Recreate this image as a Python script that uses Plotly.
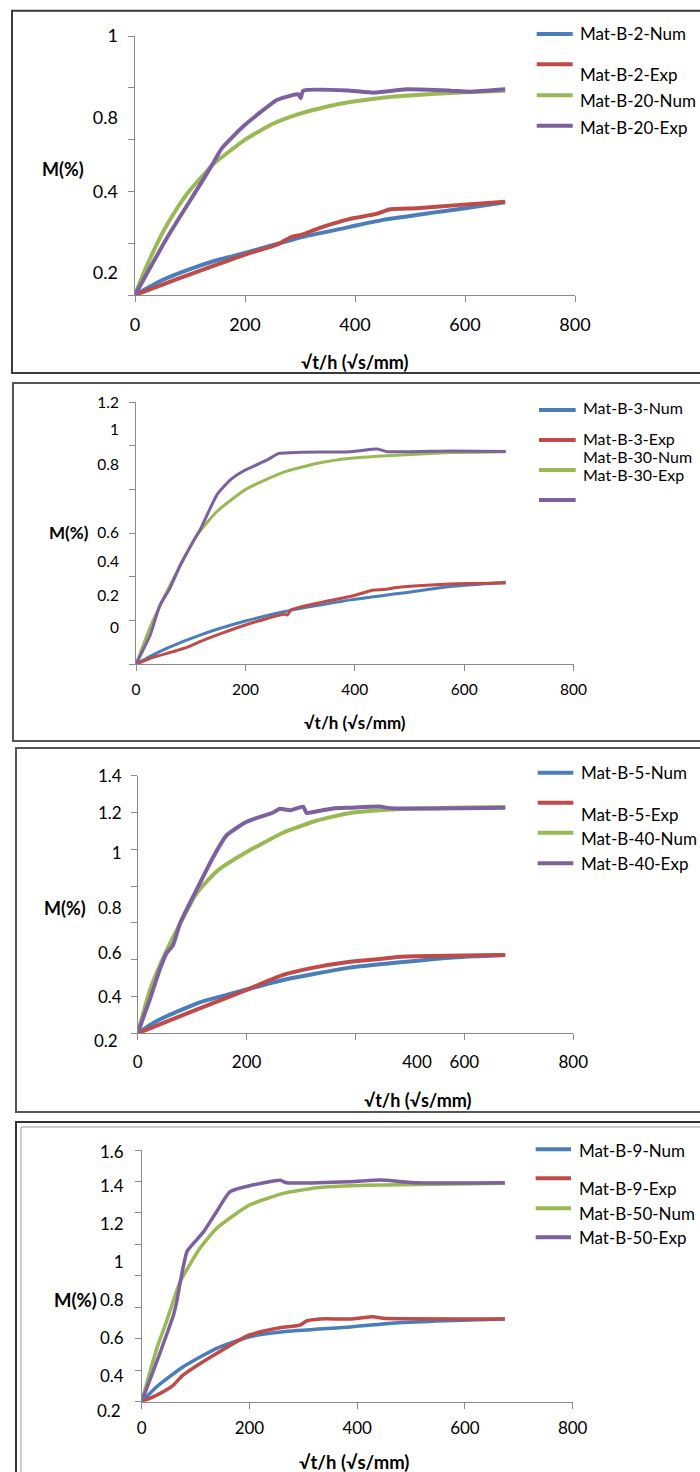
import plotly.graph_objects as go

W, H = 700, 1472
FONT = "Lato"
AX = "#8a8a8a"
BLUE, RED, GREEN, PURPLE = "#4A7EBB", "#BE4B48", "#98B954", "#7D60A0"
COLORS = [BLUE, RED, GREEN, PURPLE]

# ---------------- data ----------------
X_TICKS = [0, 200, 400, 600, 800]
X_TICKTEXT = ["0", "200", "400", "600", "800"]

# Panel 1
P1_NAMES = ["Mat-B-2-Num", "Mat-B-2-Exp", "Mat-B-20-Num", "Mat-B-20-Exp"]
P1_NUM2_X = [0, 25, 50, 100, 150, 200, 258, 300, 391, 451, 542, 600, 673]
P1_NUM2_Y = [0, 0.03, 0.058, 0.10, 0.135, 0.162, 0.197, 0.222, 0.263, 0.29, 0.318, 0.335, 0.358]
P1_EXP2_X = [0, 50, 100, 150, 200, 258, 282, 303, 340, 391, 439, 464, 512, 585, 673]
P1_EXP2_Y = [0, 0.04, 0.08, 0.118, 0.156, 0.194, 0.222, 0.233, 0.262, 0.294, 0.313, 0.331, 0.335, 0.347, 0.360]
P1_NUM20_X = [0, 10, 25, 50, 75, 100, 125, 142, 175, 200, 250, 300, 350, 391, 450, 512, 600, 673]
P1_NUM20_Y = [0, 0.055, 0.13, 0.24, 0.33, 0.405, 0.465, 0.505, 0.56, 0.60, 0.66, 0.70, 0.728, 0.745, 0.762, 0.772, 0.783, 0.789]
P1_EXP20_X = [0, 58, 118, 142, 158, 200, 258, 282, 297, 301, 306, 391, 433, 494, 573, 609, 673]
P1_EXP20_Y = [0, 0.22, 0.425, 0.509, 0.567, 0.657, 0.753, 0.769, 0.775, 0.76, 0.789, 0.789, 0.781, 0.794, 0.789, 0.785, 0.794]
P1_YTICKTEXT = ["1", "0.8", "0.4", "0.2"]
P1_YTICKVALS = [1.0, 0.683, 0.398, 0.085]

# Panel 2
P2_NAMES = ["Mat-B-3-Num", "Mat-B-3-Exp", "Mat-B-30-Num", "Mat-B-30-Exp"]
P2_NUM3_X = [0, 25, 56, 117, 200, 270, 393, 484, 575, 676]
P2_NUM3_Y = [0, 0.035, 0.073, 0.134, 0.198, 0.241, 0.295, 0.325, 0.356, 0.376]
P2_EXP3_X = [0, 26, 68, 90, 117, 160, 200, 240, 270, 277, 283, 300, 350, 393, 435, 453, 484, 575, 676]
P2_EXP3_Y = [0, 0.027, 0.058, 0.075, 0.104, 0.145, 0.18, 0.21, 0.229, 0.226, 0.249, 0.262, 0.29, 0.312, 0.34, 0.343, 0.354, 0.368, 0.372]
P2_NUM30_X = [0, 26, 56, 87, 111, 148, 200, 270, 330, 393, 484, 575, 676]
P2_NUM30_Y = [0, 0.17, 0.33, 0.48, 0.59, 0.70, 0.80, 0.88, 0.92, 0.944, 0.959, 0.970, 0.974]
P2_EXP30_X = [0, 26, 44, 62, 81, 111, 117, 148, 172, 200, 240, 261, 301, 393, 441, 460, 575, 676]
P2_EXP30_Y = [0, 0.134, 0.272, 0.348, 0.455, 0.59, 0.615, 0.776, 0.844, 0.89, 0.936, 0.966, 0.971, 0.974, 0.986, 0.974, 0.977, 0.975]
P2_YTICKTEXT = ["1.2", "1", "0.8", "0.6", "0.4", "0.2", "0"]
P2_YTICKVALS = [1.2, 1.073, 0.917, 0.605, 0.469, 0.317, 0.166]

# Panel 3
P3_NAMES = ["Mat-B-5-Num", "Mat-B-5-Exp", "Mat-B-40-Num", "Mat-B-40-Exp"]
P3_NUM5_X = [0, 25, 53, 114, 200, 267, 390, 482, 574, 675]
P3_NUM5_Y = [0, 0.05, 0.093, 0.168, 0.238, 0.29, 0.357, 0.386, 0.411, 0.425]
P3_EXP5_X = [0, 53, 114, 200, 267, 316, 390, 445, 482, 675]
P3_EXP5_Y = [0, 0.063, 0.136, 0.236, 0.317, 0.353, 0.389, 0.404, 0.416, 0.425]
P3_NUM40_X = [0, 23, 53, 84, 108, 145, 200, 267, 328, 390, 482, 574, 675]
P3_NUM40_Y = [0, 0.24, 0.45, 0.63, 0.76, 0.88, 0.985, 1.09, 1.155, 1.197, 1.219, 1.226, 1.23]
P3_EXP40_X = [0, 23, 41, 53, 65, 78, 108, 139, 163, 200, 249, 261, 280, 304, 310, 335, 359, 390, 445, 463, 675]
P3_EXP40_Y = [0, 0.19, 0.35, 0.435, 0.48, 0.60, 0.78, 0.96, 1.075, 1.15, 1.20, 1.22, 1.212, 1.232, 1.198, 1.21, 1.222, 1.226, 1.232, 1.223, 1.226]
P3_YTICKTEXT = ["1.4", "1.2", "1", "0.8", "0.6", "0.4"]
P3_YTICKVALS = [1.398, 1.197, 0.98, 0.681, 0.436, 0.197]
P3_XTICKVALS = [0, 200, 513, 600, 800]

# Panel 4
P4_NAMES = ["Mat-B-9-Num", "Mat-B-9-Exp", "Mat-B-50-Num", "Mat-B-50-Exp"]
P4_NUM9_X = [0, 28, 77, 139, 200, 263, 387, 470, 563, 674]
P4_NUM9_Y = [0, 0.095, 0.222, 0.339, 0.413, 0.445, 0.475, 0.50, 0.515, 0.526]
P4_EXP9_X = [0, 28, 59, 77, 139, 200, 257, 294, 306, 331, 387, 430, 448, 674]
P4_EXP9_Y = [0, 0.042, 0.106, 0.17, 0.307, 0.424, 0.47, 0.487, 0.513, 0.526, 0.526, 0.54, 0.53, 0.526]
P4_NUM50_X = [0, 28, 46, 71, 108, 139, 200, 263, 325, 387, 448, 674]
P4_NUM50_Y = [0, 0.339, 0.509, 0.76, 0.975, 1.102, 1.25, 1.324, 1.36, 1.373, 1.378, 1.388]
P4_EXP50_X = [0, 28, 46, 59, 65, 74, 84, 96, 115, 139, 164, 200, 257, 269, 387, 443, 511, 674]
P4_EXP50_Y = [0, 0.254, 0.424, 0.551, 0.636, 0.805, 0.954, 1.006, 1.081, 1.208, 1.335, 1.373, 1.407, 1.392, 1.398, 1.409, 1.392, 1.392]
P4_YTICKTEXT = ["1.6", "1.4", "1.2", "1", "0.8", "0.6", "0.4"]
P4_YTICKVALS = [1.589, 1.371, 1.13, 0.89, 0.647, 0.405, 0.163]

X_TITLE = "√t/h (√s/mm)"
Y_TITLE = "M(%)"

# ---------------- layout geometry (pixels) ----------------
def pxx(x):
    return x / W


def pyy(y):
    return 1 - y / H


panels = [
    dict(series=[(P1_NUM2_X, P1_NUM2_Y), (P1_EXP2_X, P1_EXP2_Y), (P1_NUM20_X, P1_NUM20_Y), (P1_EXP20_X, P1_EXP20_Y)],
         names=P1_NAMES, ymax=1.0, box=(135, 575, 36, 295), lw=4, fs=18, tfs=18,
         ytv=P1_YTICKVALS, ytt=P1_YTICKTEXT, xtv=X_TICKS, xstand=17, ystand=16,
         ytitle=(63, 169), xtitle=(355, 362),
         leg_lines=[34, 64.3, 95.3, 125.7], leg_x=(536.7, 572.7), leg_tx=578,
         leg_ty=[33.3, 75, 100, 127.3], leg_fs=17, extra=None),
    dict(series=[(P2_NUM3_X, P2_NUM3_Y), (P2_EXP3_X, P2_EXP3_Y), (P2_NUM30_X, P2_NUM30_Y), (P2_EXP30_X, P2_EXP30_Y)],
         names=P2_NAMES, ymax=1.2, box=(136, 573.5, 402.3, 664.3), lw=3, fs=15.5, tfs=17,
         ytv=P2_YTICKVALS, ytt=P2_YTICKTEXT, xtv=X_TICKS, xstand=14, ystand=16,
         ytitle=(69, 532), xtitle=(355, 722),
         leg_lines=[410, 440, 470, 500], leg_x=(539, 575.7), leg_tx=580.7,
         leg_ty=[407.3, 438.3, 456.7, 474.3], leg_fs=16, extra=None),
    dict(series=[(P3_NUM5_X, P3_NUM5_Y), (P3_EXP5_X, P3_EXP5_Y), (P3_NUM40_X, P3_NUM40_Y), (P3_EXP40_X, P3_EXP40_Y)],
         names=P3_NAMES, ymax=1.4, box=(137.7, 573.3, 775.7, 1033.3), lw=4, fs=17, tfs=18,
         ytv=P3_YTICKVALS, ytt=P3_YTICKTEXT, xtv=P3_XTICKVALS, xstand=17, ystand=15,
         ytitle=(64.5, 908), xtitle=(418, 1100),
         leg_lines=[772.7, 802.7, 832.7, 863.3], leg_x=(537.7, 573.3), leg_tx=579.3,
         leg_ty=[772.7, 814, 838.3, 863.3], leg_fs=17, extra=("0.2", 120, 1040)),
    dict(series=[(P4_NUM9_X, P4_NUM9_Y), (P4_EXP9_X, P4_EXP9_Y), (P4_NUM50_X, P4_NUM50_Y), (P4_EXP50_X, P4_EXP50_Y)],
         names=P4_NAMES, ymax=1.6, box=(141.7, 572.7, 1150, 1401.7), lw=3.5, fs=17, tfs=18.5,
         ytv=P4_YTICKVALS, ytt=P4_YTICKTEXT, xtv=X_TICKS, xstand=14, ystand=17,
         ytitle=(75, 1300), xtitle=(354, 1462),
         leg_lines=[1149.3, 1178.3, 1208.3, 1237.3], leg_x=(535.7, 571), leg_tx=577.3,
         leg_ty=[1150, 1188.3, 1213.3, 1237.7], leg_fs=17, extra=("0.2", 123, 1410)),
]

fig = go.Figure()
layout = dict(width=W, height=H, margin=dict(l=0, r=0, t=0, b=0, pad=0), autosize=False,
              paper_bgcolor="white", plot_bgcolor="rgba(0,0,0,0)", showlegend=False,
              font=dict(family=FONT, color="#000000"))
annotations = []
shapes = []

for i, p in enumerate(panels, start=1):
    xa = "x" if i == 1 else f"x{i}"
    ya = "y" if i == 1 else f"y{i}"
    xk = "xaxis" if i == 1 else f"xaxis{i}"
    yk = "yaxis" if i == 1 else f"yaxis{i}"
    lx, ly = f"x{i + 4}", f"y{i + 4}"
    x0, x1, y0, y1 = p["box"]
    for (xs, ys), name, color in zip(p["series"], p["names"], COLORS):
        fig.add_trace(go.Scatter(x=xs, y=ys, mode="lines", name=name,
                                 line=dict(color=color, width=p["lw"], shape="spline", smoothing=0.5),
                                 xaxis=xa, yaxis=ya, showlegend=False))
    fig.add_trace(go.Scatter(x=[], y=[], xaxis=lx, yaxis=ly, showlegend=False, hoverinfo="skip"))

    n = int(round(p["ymax"] / 0.2))
    ytickvals = [round(k * 0.2, 2) for k in range(n + 1)]
    common = dict(showgrid=False, zeroline=False, fixedrange=True, automargin=False)
    layout[xk] = dict(domain=[pxx(x0), pxx(x1)], range=[0, 800], anchor=ya,
                      tickmode="array", tickvals=X_TICKS, showticklabels=False,
                      ticks="outside", ticklen=6, tickcolor=AX, tickwidth=1,
                      showline=True, linecolor=AX, linewidth=1, **common)
    layout[yk] = dict(domain=[pyy(y1), pyy(y0)], range=[0, p["ymax"]], anchor=xa,
                      tickmode="array", tickvals=ytickvals, showticklabels=False,
                      ticks="outside", ticklen=6, tickcolor=AX, tickwidth=1,
                      showline=True, linecolor=AX, linewidth=1, **common)
    tf = dict(family=FONT, size=p["fs"], color="#000000")
    layout[f"xaxis{i + 4}"] = dict(overlaying=xa, anchor=ly, range=[0, 800],
                                   tickmode="array", tickvals=p["xtv"], ticktext=X_TICKTEXT,
                                   ticks="", showline=False, tickfont=tf,
                                   ticklabelstandoff=p["xstand"], **common)
    layout[f"yaxis{i + 4}"] = dict(overlaying=ya, anchor=lx, range=[0, p["ymax"]],
                                   tickmode="array", tickvals=p["ytv"], ticktext=p["ytt"],
                                   ticks="", showline=False, tickfont=tf,
                                   ticklabelstandoff=p["ystand"], **common)

    annotations.append(dict(text=f"<b>{Y_TITLE}</b>", x=pxx(p["ytitle"][0]), y=pyy(p["ytitle"][1]),
                            xref="paper", yref="paper", showarrow=False, xanchor="center", yanchor="middle",
                            font=dict(family=FONT, size=p["tfs"])))
    annotations.append(dict(text=f"<b>{X_TITLE}</b>", x=pxx(p["xtitle"][0]), y=pyy(p["xtitle"][1]),
                            xref="paper", yref="paper", showarrow=False, xanchor="center", yanchor="middle",
                            font=dict(family=FONT, size=p["tfs"])))
    if p["extra"]:
        t, ex, ey = p["extra"]
        annotations.append(dict(text=t, x=pxx(ex), y=pyy(ey), xref="paper", yref="paper", showarrow=False,
                                xanchor="right", yanchor="middle", font=tf))
    for ly_, ty, name, color in zip(p["leg_lines"], p["leg_ty"], p["names"], COLORS):
        shapes.append(dict(type="line", xref="paper", yref="paper", x0=pxx(p["leg_x"][0]), x1=pxx(p["leg_x"][1]),
                           y0=pyy(ly_), y1=pyy(ly_), line=dict(color=color, width=4)))
        annotations.append(dict(text=name, x=pxx(p["leg_tx"]), y=pyy(ty), xref="paper", yref="paper",
                                showarrow=False, xanchor="left", yanchor="middle",
                                font=dict(family=FONT, size=p["leg_fs"])))

FRAMES = [(12, 10.7, 373, "#3a3a3a", 2), (13, 383, 741, "#555555", 2), (16, 748, 1112, "#555555", 2),
          (16, 1122, 1500, "#333333", 2), (21, 1127, 1500, "#9a9a9a", 1)]
for fx, fy0, fy1, fc, fw in FRAMES:
    shapes.append(dict(type="rect", xref="paper", yref="paper", x0=pxx(fx), x1=1.05,
                       y0=pyy(fy1), y1=pyy(fy0), line=dict(color=fc, width=fw), layer="below"))

layout["annotations"] = annotations
layout["shapes"] = shapes
fig.update_layout(**layout)

POST = (
    "var s=document.createElement('style');"
    "s.textContent='html,body{margin:0!important;padding:0!important;overflow:hidden!important;"
    "width:700px;height:1472px;} .plotly-graph-div{position:absolute;left:0;top:0;}';"
    "document.head.appendChild(s);"
)
fig.write_html("out.html", config={"displayModeBar": False, "responsive": False}, post_script=POST)
